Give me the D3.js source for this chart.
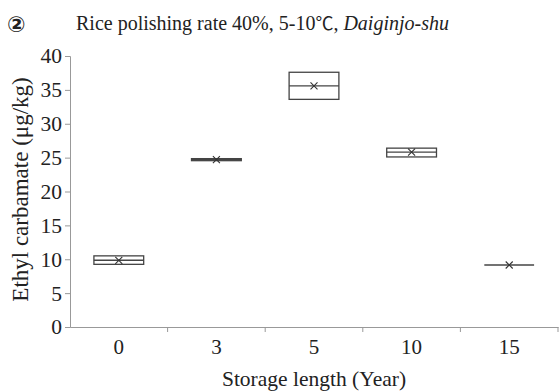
<!DOCTYPE html>
<html lang="en">
<head>
    <meta charset="UTF-8">
    <title>Ethyl carbamate by storage length</title>
    <script src="https://d3js.org/d3.v7.min.js"></script>
    <style>
        body { margin: 0; background: #fff; }
    </style>
</head>
<body>
    <div id="chart"></div>
    <script>
        // storage length categories and box values
        var categories = ["0", "3", "5", "10", "15"];
        var q1Values = [9.25, 24.55, 33.6, 25.1, 9.15];
        var medianValues = [9.85, 24.7, 35.6, 25.8, 9.15];
        var q3Values = [10.5, 24.85, 37.6, 26.4, 9.15];
        var meanValues = [9.85, 24.7, 35.6, 25.8, 9.15];
        var yTicks = [0, 5, 10, 15, 20, 25, 30, 35, 40];

        var serif = "'Liberation Serif', 'Times New Roman', serif";
        var width = 560, height = 392;
        var margin = { top: 56, right: 2, bottom: 65, left: 70 };

        var svg = d3.select("#chart")
            .append("svg")
            .attr("width", width)
            .attr("height", height);

        var x = d3.scaleBand()
            .domain(categories)
            .range([margin.left, width - margin.right])
            .paddingInner(0)
            .paddingOuter(0);

        var y = d3.scaleLinear()
            .domain([0, 40])
            .range([height - margin.bottom, margin.top]);

        var data = categories.map(function(c, i) {
            return { cat: c, q1: q1Values[i], med: medianValues[i], q3: q3Values[i], mean: meanValues[i] };
        });

        // y axis
        var yAxis = svg.append("g")
            .attr("transform", "translate(" + margin.left + ",0)")
            .call(d3.axisLeft(y).tickValues(yTicks).tickSize(5).tickPadding(3));
        yAxis.attr("font-family", null);
        yAxis.selectAll("text")
            .style("font-family", serif)
            .style("font-size", "21.5px")
            .attr("fill", "#222");

        // x axis: ticks sit between the categories
        var xAxis = svg.append("g")
            .attr("transform", "translate(0," + y(0) + ")")
            .call(d3.axisBottom(x).tickSize(0).tickPadding(12));
        xAxis.attr("font-family", null);
        xAxis.selectAll("text")
            .style("font-family", serif)
            .style("font-size", "21px")
            .attr("fill", "#222");
        xAxis.selectAll(".sep")
            .data(categories)
            .enter()
            .append("line")
            .attr("x1", function(d) { return x(d) + x.bandwidth(); })
            .attr("x2", function(d) { return x(d) + x.bandwidth(); })
            .attr("y1", 0)
            .attr("y2", 5)
            .attr("stroke", "currentColor");

        svg.selectAll(".domain, .tick line, g line").attr("stroke", "#999");

        var boxW = x.bandwidth() * 0.51;

        // boxes
        var boxes = svg.selectAll(".box")
            .data(data)
            .enter()
            .append("g")
            .attr("class", "box");

        boxes.append("rect")
            .attr("x", function(d) { return x(d.cat) + (x.bandwidth() - boxW) / 2; })
            .attr("y", function(d) { return y(d.q3); })
            .attr("width", boxW)
            .attr("height", function(d) { return Math.max(0, y(d.q1) - y(d.q3)); })
            .attr("fill", "none")
            .attr("stroke", "#444")
            .attr("stroke-width", 1.3);

        boxes.append("line")
            .attr("x1", function(d) { return x(d.cat) + (x.bandwidth() - boxW) / 2; })
            .attr("x2", function(d) { return x(d.cat) + (x.bandwidth() + boxW) / 2; })
            .attr("y1", function(d) { return y(d.med); })
            .attr("y2", function(d) { return y(d.med); })
            .attr("stroke", "#444")
            .attr("stroke-width", 1.3);

        // mean markers (x)
        boxes.append("path")
            .attr("d", function(d) {
                var cx = x(d.cat) + x.bandwidth() / 2, cy = y(d.mean), s = 3.5;
                return "M" + (cx - s) + "," + (cy - s) + "L" + (cx + s) + "," + (cy + s) +
                       "M" + (cx - s) + "," + (cy + s) + "L" + (cx + s) + "," + (cy - s);
            })
            .attr("stroke", "#333")
            .attr("stroke-width", 1.1)
            .attr("fill", "none");

        // titles
        svg.append("text")
            .attr("x", 7)
            .attr("y", 32)
            .style("font-family", "'DejaVu Sans', sans-serif")
            .style("font-size", "22px")
            .style("font-weight", "bold")
            .attr("fill", "#222")
            .text("\u2461");

        var title = svg.append("text")
            .attr("x", 76)
            .attr("y", 30)
            .style("font-family", serif)
            .style("font-size", "20px")
            .attr("fill", "#222");
        title.append("tspan").text("Rice polishing rate 40%, 5-10");
        title.append("tspan").style("font-family", "'Noto Sans CJK JP', serif").style("font-size", "18px").text("\u2103");
        title.append("tspan").text(", ");
        title.append("tspan").style("font-style", "italic").text("Daiginjo-shu");

        svg.append("text")
            .attr("x", 314)
            .attr("y", 386)
            .attr("text-anchor", "middle")
            .style("font-family", serif)
            .style("font-size", "21.5px")
            .attr("fill", "#222")
            .text("Storage length (Year)");

        svg.append("text")
            .attr("transform", "translate(28," + (y(20) - 2) + ") rotate(-90)")
            .attr("text-anchor", "middle")
            .style("font-family", serif)
            .style("font-size", "23px")
            .attr("fill", "#222")
            .text("Ethyl carbamate (\u03bcg/kg)");
    </script>
</body>
</html>
